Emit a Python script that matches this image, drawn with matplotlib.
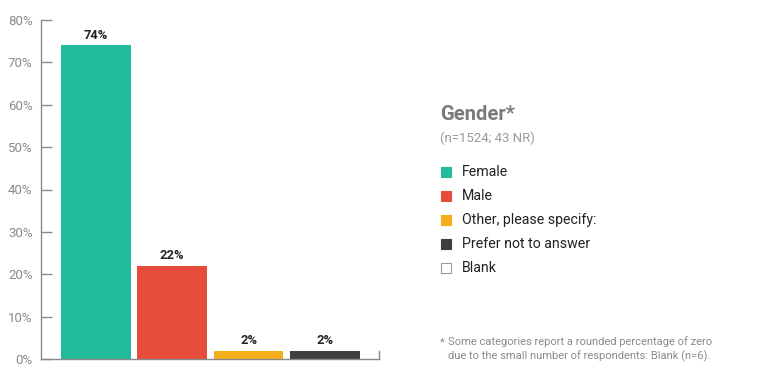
import matplotlib
matplotlib.use("Agg")
import matplotlib.pyplot as plt
from matplotlib.patches import Rectangle

categories = ["Female", "Male", "Other, please specify:", "Prefer not to answer", "Blank"]
values = [74, 22, 2, 2, 0]
labels = ["74%", "22%", "2%", "2%", ""]
colors = ["#22BB9B", "#E64C3C", "#F5AE1B", "#3E3E3E", "#FFFFFF"]
yticks = [0, 10, 20, 30, 40, 50, 60, 70, 80]
title = "Gender*"
subtitle = "(n=1524; 43 NR)"
footnote = ["*", "Some categories report a rounded percentage of zero",
            "due to the small number of respondents: Blank (n=6)."]

plt.rcParams['font.family'] = ['Roboto', 'DejaVu Sans']
W, H = 763, 386
fig = plt.figure(figsize=(W / 100, H / 100), dpi=100)

def fx(px):
    return px / W

def fy(py):
    return 1 - py / H

ax = fig.add_axes([fx(41), fy(359), fx(379) - fx(41), fy(20) - fy(359)])
nbars = 4
xs = list(range(nbars))
ax.bar(xs, values[:nbars], width=0.915, color=colors[:nbars])
for x, v, l in zip(xs, values, labels):
    ax.text(x, v + 0.8, l, ha='center', va='bottom', fontsize=9.3,
            fontweight='bold', color='#222222')
ax.set_xlim(-0.72, 3.71)
ax.set_ylim(0, 80)
ax.set_yticks(yticks)
ax.set_yticklabels([f"{t}%" for t in yticks])
ax.set_xticks([])
axis_col = '#8a8a8a'
ax.spines['top'].set_visible(False)
ax.spines['right'].set_bounds(0, 1.9)
for s in ['left', 'bottom', 'right']:
    ax.spines[s].set_color(axis_col)
    ax.spines[s].set_linewidth(1.0)
ax.tick_params(axis='y', direction='in', length=8, width=1.0, color=axis_col,
               labelcolor='#8a8a8a', labelsize=9.5, pad=6)

# Legend block
fig.text(fx(440), fy(114), title, fontsize=14.5, fontweight='bold',
         color='#7a7a7a', va='center', ha='left')
fig.text(fx(440), fy(138), subtitle, fontsize=9.5, color='#9a9a9a',
         va='center', ha='left')
ys = [172, 196, 220, 244, 268]
for cat, col, y in zip(categories, colors, ys):
    edge = '#9a9a9a' if col == '#FFFFFF' else col
    fig.add_artist(Rectangle((fx(441), fy(y + 5)), fx(10), 10 / H,
                             facecolor=col, edgecolor=edge, linewidth=0.8,
                             transform=fig.transFigure))
    fig.text(fx(462), fy(y), cat, fontsize=10.2, color='#222222',
             va='center', ha='left')

fig.text(fx(440), fy(342), footnote[0], fontsize=8, color='#8a8a8a',
         va='center', ha='left')
fig.text(fx(448), fy(342), footnote[1], fontsize=8, color='#8a8a8a',
         va='center', ha='left')
fig.text(fx(448), fy(356), footnote[2], fontsize=8, color='#8a8a8a',
         va='center', ha='left')

fig.savefig("out.png", dpi=100)
